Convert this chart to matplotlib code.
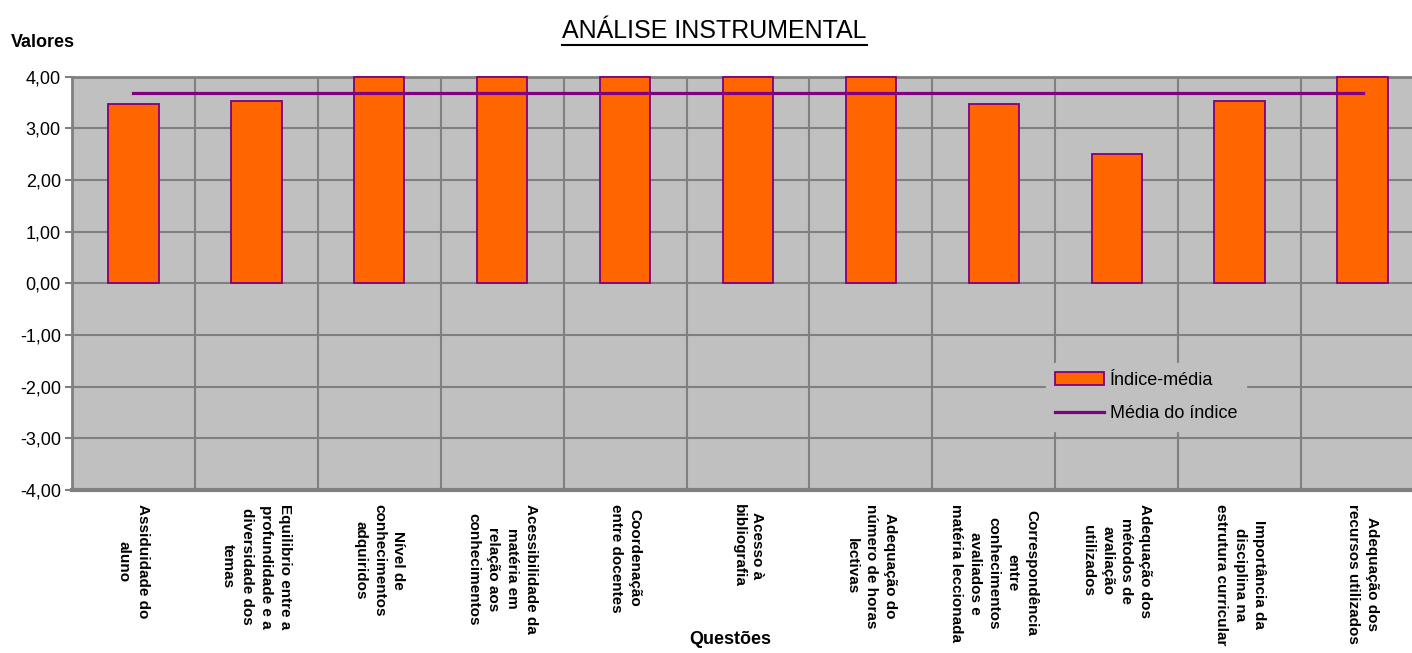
import numpy as np
import matplotlib
matplotlib.use("Agg")
import matplotlib.pyplot as plt
from matplotlib.lines import Line2D
from matplotlib.ticker import FuncFormatter

plt.rcParams['font.family'] = ['Liberation Sans', 'DejaVu Sans']

# data
questoes = [
    "Assiduidade do\naluno",
    "Equilibrio entre a\nprofundidade e a\ndiversidade dos\ntemas",
    "Nível de\nconhecimentos\nadquiridos",
    "Acessibilidade da\nmatéria em\nrelação aos\nconhecimentos",
    "Coordenação\nentre docentes",
    "Acesso à\nbibliografia",
    "Adequação do\nnúmero de horas\nlectivas",
    "Correspondência\nentre\nconhecimentos\navaliados e\nmatéria leccionada",
    "Adequação dos\nmétodos de\navaliação\nutilizados",
    "Importância da\ndisciplina na\nestrutura curricular",
    "Adequação dos\nrecursos utilizados",
]
indice_media = [3.47, 3.52, 4.0, 4.0, 4.0, 4.0, 4.0, 3.47, 2.5, 3.52, 4.0]
media_indice = [np.mean(indice_media)] * len(indice_media)

orange = '#FF6600'
purple = '#800080'
grid_c = '#808080'
bg = '#C0C0C0'

fig = plt.figure(figsize=(14.12, 6.53), dpi=100)
ax = fig.add_axes([0.051, 0.2496, 0.9575, 0.633])
ax.set_facecolor(bg)

x = np.arange(len(questoes))
bars = ax.bar(x, indice_media, width=0.41, color=orange, edgecolor=purple,
              linewidth=1.3, label='Índice-média', zorder=3, clip_on=False)
line, = ax.plot(x, media_indice, color=purple, linewidth=2.3,
                label='Média do índice', zorder=4)

ax.set_xlim(-0.5, len(questoes) - 0.5)
ax.set_ylim(-4, 4)
ax.set_yticks(np.arange(-4, 5, 1))
ax.yaxis.set_major_formatter(FuncFormatter(lambda v, p: ('%.2f' % v).replace('.', ',')))
ax.tick_params(axis='y', labelsize=13, length=5, width=1.5, color=grid_c, pad=3)

# category boundaries as vertical gridlines
ax.set_xticks(x)
ax.set_xticks(np.arange(-0.5, len(questoes), 1), minor=True)
ax.tick_params(axis='x', which='both', length=0, pad=10)
ax.set_xticklabels(questoes, rotation=-90, ha='center', va='top',
                   fontsize=11, fontweight='bold', multialignment='center',
                   linespacing=1.45)
ax.grid(axis='y', which='major', color=grid_c, linewidth=1.5, zorder=1)
ax.grid(axis='x', which='minor', color=grid_c, linewidth=1.5, zorder=1)
ax.set_axisbelow(True)

for s in ['left', 'bottom', 'top']:
    ax.spines[s].set_color(grid_c)
    ax.spines[s].set_linewidth(2)
ax.spines['right'].set_visible(False)
ax.spines['bottom'].set_linewidth(3)

leg = ax.legend([bars, line], ['Índice-média', 'Média do índice'],
                loc='upper left', bbox_to_anchor=(0.714, 0.329), fontsize=13,
                frameon=True, facecolor=bg, edgecolor=bg, framealpha=1,
                handlelength=2.7, handletextpad=0.3, labelspacing=0.9,
                borderpad=0.5, fancybox=False)

fig.text(0.008, 0.935, 'Valores', fontsize=13, fontweight='bold', ha='left', va='center')
fig.text(0.517, 0.02, 'Questões', fontsize=13, fontweight='bold', ha='center', va='center')

title = fig.text(0.506, 0.953, 'ANÁLISE INSTRUMENTAL', fontsize=18, ha='center', va='center')
fig.canvas.draw()
bb = title.get_window_extent().transformed(fig.transFigure.inverted())
fig.add_artist(Line2D([bb.x0, bb.x1], [bb.y0 - 0.004, bb.y0 - 0.004],
                      transform=fig.transFigure, color='black', linewidth=1.5))

fig.savefig('out.png', dpi=100)
